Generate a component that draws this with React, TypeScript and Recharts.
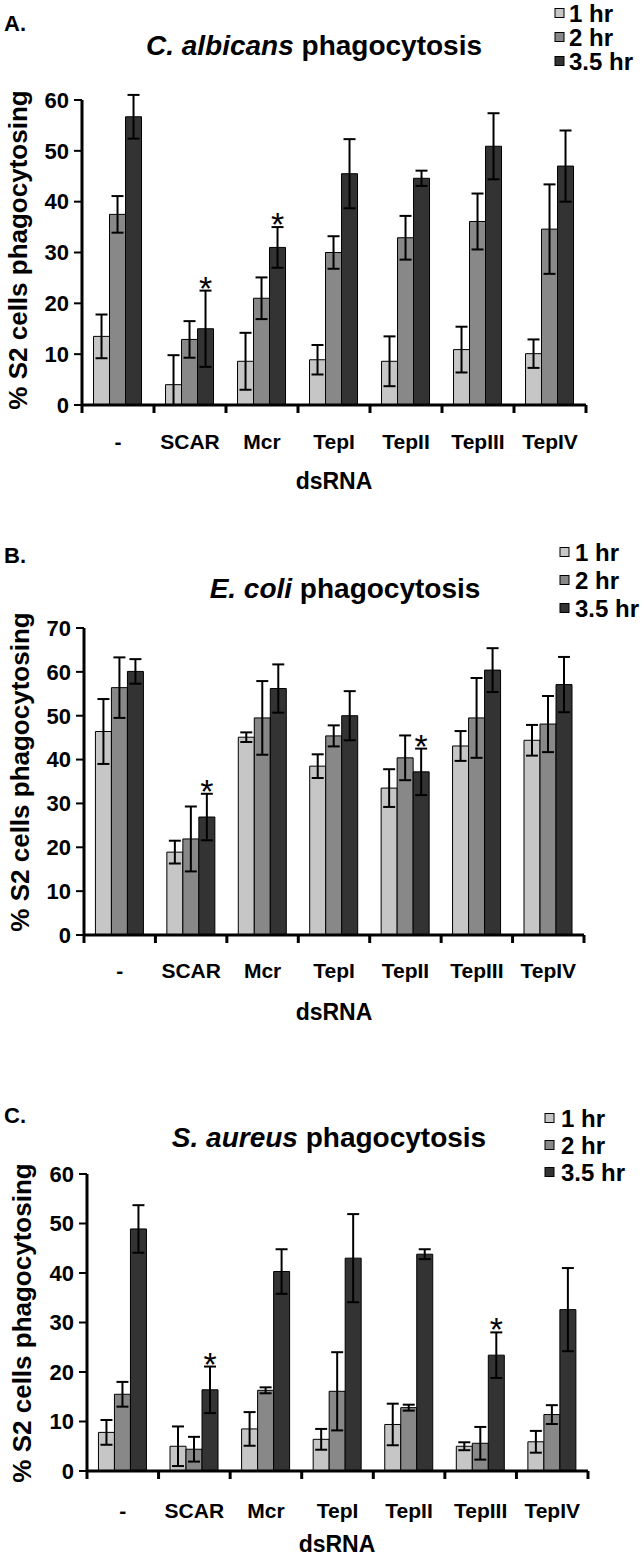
import React from 'react';
import { BarChart, Bar, XAxis, YAxis, ErrorBar, LabelList } from 'recharts';

// ---------- DATA ----------
const categories = ['-', 'SCAR', 'Mcr', 'TepI', 'TepII', 'TepIII', 'TepIV'];
const seriesNames = ['1 hr', '2 hr', '3.5 hr'];
const seriesColors = ['#c6c6c6', '#888888', '#333333'];

// A. C. albicans
const albicans1hr = [13.5, 4.0, 8.6, 8.9, 8.6, 10.9, 10.1];
const albicans1hrErr: (number | number[])[] = [4.3, [4.0, 5.8], 5.6, 2.9, 4.9, 4.5, 2.8];
const albicans2hr = [37.5, 12.9, 21.0, 30.0, 32.9, 36.1, 34.6];
const albicans2hrErr = [3.6, 3.6, 4.1, 3.2, 4.3, 5.5, 8.8];
const albicans35hr = [56.7, 15.0, 31.0, 45.5, 44.6, 50.9, 47.0];
const albicans35hrErr = [4.3, 7.5, 4.0, 6.8, 1.5, 6.5, 7.0];
const albicansStars = ['', '*', '*', '', '', '', ''];
const albicansTicks = [0, 10, 20, 30, 40, 50, 60];

// B. E. coli
const coli1hr = [46.4, 18.9, 45.1, 38.5, 33.5, 43.1, 44.4];
const coli1hrErr = [7.4, 2.6, 1.1, 2.7, 4.3, 3.4, 3.5];
const coli2hr = [56.4, 21.9, 49.5, 45.4, 40.4, 49.5, 48.1];
const coli2hrErr = [6.9, 7.4, 8.4, 2.4, 5.1, 9.1, 6.4];
const coli35hr = [60.1, 26.9, 56.2, 50.0, 37.2, 60.4, 57.1];
const coli35hrErr = [2.8, 5.3, 5.5, 5.6, 5.3, 5.0, 6.3];
const coliStars = ['', '*', '', '', '*', '', ''];
const coliTicks = [0, 10, 20, 30, 40, 50, 60, 70];

// C. S. aureus
const aureus1hr = [7.8, 5.0, 8.5, 6.4, 9.4, 5.0, 5.9];
const aureus1hrErr = [2.5, 4.0, 3.4, 2.1, 4.2, 0.8, 2.2];
const aureus2hr = [15.5, 4.4, 16.3, 16.1, 12.8, 5.6, 11.4];
const aureus2hrErr = [2.5, 2.5, 0.6, 7.9, 0.6, 3.3, 1.9];
const aureus35hr = [48.9, 16.4, 40.3, 43.0, 43.8, 23.4, 32.6];
const aureus35hrErr = [4.8, 4.7, 4.5, 8.9, 1.0, 4.6, 8.4];
const aureusStars = ['', '*', '', '', '', '*', ''];
const aureusTicks = [0, 10, 20, 30, 40, 50, 60];

// ---------- LAYOUT ----------
const FONT = '"Liberation Sans", Arial, Helvetica, sans-serif';
const Y_AXIS_W = 60;
const CAT_AXIS_H = 50;
const EDGE_TICK = 8;

type PanelCfg = {
  letter: string;
  italic: string;
  rest: string;
  top: number;
  height: number;
  plotTop: number;
  plotBottom: number;
  plotLeft: number;
  plotRight: number;
  labelMargin: number;
  letterY: number;
  titleX: number;
  titleY: number;
  legendX: number;
  legendTextX: number;
  legendY: number[];
  yLabelX: number;
  yLabelY: number;
  dsX: number;
  dsY: number;
  ticks: number[];
  v: number[][];
  e: (number | number[])[][];
  stars: string[];
};

const panels: PanelCfg[] = [
  {
    letter: 'A.', italic: 'C. albicans', rest: ' phagocytosis',
    top: 0, height: 470, plotTop: 100, plotBottom: 405, plotLeft: 82, plotRight: 586,
    labelMargin: 29, letterY: 31, titleX: 314, titleY: 55,
    legendX: 555, legendTextX: 569, legendY: [13, 37, 61],
    yLabelX: 18, yLabelY: 250, dsX: 334, dsY: 489,
    ticks: albicansTicks,
    v: [albicans1hr, albicans2hr, albicans35hr],
    e: [albicans1hrErr, albicans2hrErr, albicans35hrErr],
    stars: albicansStars,
  },
  {
    letter: 'B.', italic: 'E. coli', rest: ' phagocytosis',
    top: 520, height: 480, plotTop: 628, plotBottom: 935, plotLeft: 84, plotRight: 584,
    labelMargin: 28, letterY: 563, titleX: 345, titleY: 598,
    legendX: 560, legendTextX: 575, legendY: [552, 580, 608],
    yLabelX: 20, yLabelY: 772, dsX: 334, dsY: 1020,
    ticks: coliTicks,
    v: [coli1hr, coli2hr, coli35hr],
    e: [coli1hrErr, coli2hrErr, coli35hrErr],
    stars: coliStars,
  },
  {
    letter: 'C.', italic: 'S. aureus', rest: ' phagocytosis',
    top: 1090, height: 450, plotTop: 1174, plotBottom: 1471, plotLeft: 87, plotRight: 588,
    labelMargin: 32, letterY: 1123, titleX: 329, titleY: 1147,
    legendX: 545, legendTextX: 561, legendY: [1118, 1145, 1172],
    yLabelX: 22, yLabelY: 1323, dsX: 337, dsY: 1552,
    ticks: aureusTicks,
    v: [aureus1hr, aureus2hr, aureus35hr],
    e: [aureus1hrErr, aureus2hrErr, aureus35hrErr],
    stars: aureusStars,
  },
];

function buildRows(p: PanelCfg) {
  return categories.map((cat, i) => ({
    cat,
    v1: p.v[0][i],
    v2: p.v[1][i],
    v3: p.v[2][i],
    e1: p.e[0][i],
    e2: p.e[1][i],
    e3: p.e[2][i],
    star: p.stars[i],
  }));
}

function Panel({ p }: { p: PanelCfg }) {
  const rows = buildRows(p);
  const marginTop = p.plotTop - p.top;
  const marginBottom = p.height - (p.plotBottom - p.top) - CAT_AXIS_H;
  const yMax = p.ticks[p.ticks.length - 1];
  const fallbackHalfBand = (p.plotRight - p.plotLeft) / categories.length / 2;

  const starContent = (props: any) => {
    const { viewBox, index, value } = props;
    if (!value || !viewBox) return null;
    const row = rows[index];
    const err = Array.isArray(row.e3) ? row.e3[1] : (row.e3 as number);
    const pxPerUnit = viewBox.height / row.v3;
    const capY = viewBox.y - err * pxPerUnit;
    return (
      <text
        x={viewBox.x + viewBox.width / 2}
        y={capY + 9}
        textAnchor="middle"
        fontFamily={FONT}
        fontSize={34}
        fill="#000"
      >
        {value}
      </text>
    );
  };

  // category label + boundary tick marks (boundaries of the band scale)
  const catTick = (props: any) => {
    const { x, y, payload, index } = props;
    const half = payload && typeof payload.offset === 'number' && payload.offset > 0 ? payload.offset : fallbackHalfBand;
    const axisY = y - p.labelMargin;
    const last = index === categories.length - 1;
    return (
      <g>
        <line x1={x - half} y1={axisY} x2={x - half} y2={axisY + EDGE_TICK} stroke="#000" strokeWidth={3} />
        {last ? (
          <line x1={x + half} y1={axisY} x2={x + half} y2={axisY + EDGE_TICK} stroke="#000" strokeWidth={3} />
        ) : null}
        <text
          x={x}
          y={y}
          dy="0.71em"
          textAnchor="middle"
          fontFamily={FONT}
          fontSize={21}
          fontWeight="bold"
          fill="#000"
        >
          {payload.value}
        </text>
      </g>
    );
  };

  return (
    <div style={{ position: 'absolute', left: 0, top: p.top }}>
      <BarChart
        width={644}
        height={p.height}
        data={rows}
        margin={{ top: marginTop, right: 644 - p.plotRight, left: p.plotLeft - Y_AXIS_W, bottom: marginBottom }}
        barCategoryGap="16%"
        barGap={0}
      >
        {[0, 1, 2].map((s) => (
          <Bar
            key={s}
            dataKey={`v${s + 1}`}
            name={seriesNames[s]}
            fill={seriesColors[s]}
            stroke="#000"
            strokeWidth={1}
            isAnimationActive={false}
          >
            <ErrorBar dataKey={`e${s + 1}`} width={6} stroke="#000" strokeWidth={2} direction="y" />
            {s === 2 ? <LabelList dataKey="star" content={starContent} /> : null}
          </Bar>
        ))}
        <XAxis
          dataKey="cat"
          type="category"
          interval={0}
          height={CAT_AXIS_H}
          axisLine={{ stroke: '#000', strokeWidth: 3 }}
          tickLine={false}
          tickSize={0}
          tickMargin={p.labelMargin}
          tick={catTick}
        />
        <YAxis
          width={Y_AXIS_W}
          domain={[0, yMax]}
          ticks={p.ticks}
          allowDataOverflow
          interval={0}
          tickSize={8}
          tickMargin={5}
          axisLine={{ stroke: '#000', strokeWidth: 3 }}
          tickLine={{ stroke: '#000', strokeWidth: 2 }}
          tick={{ fontSize: 22, fontWeight: 'bold', fill: '#000', fontFamily: FONT }}
        />
      </BarChart>
    </div>
  );
}

function Overlay() {
  return (
    <svg
      width={644}
      height={1559}
      style={{ position: 'absolute', left: 0, top: 0, pointerEvents: 'none' }}
      fontFamily={FONT}
      fontWeight="bold"
      fill="#000"
    >
      {panels.map((p, pi) => (
        <g key={pi}>
          <text x={4} y={p.letterY} fontSize={22}>{p.letter}</text>
          <text x={p.titleX} y={p.titleY} fontSize={28} textAnchor="middle">
            <tspan fontStyle="italic">{p.italic}</tspan>
            <tspan>{p.rest}</tspan>
          </text>
          {seriesNames.map((n, si) => (
            <g key={si}>
              <rect
                x={p.legendX}
                y={p.legendY[si] - 4.5}
                width={9}
                height={9}
                fill={seriesColors[si]}
                stroke="#000"
                strokeWidth={1}
              />
              <text x={p.legendTextX} y={p.legendY[si] + 9} fontSize={24}>{n}</text>
            </g>
          ))}
          <text
            x={p.yLabelX}
            y={p.yLabelY}
            fontSize={26}
            textAnchor="middle"
            dominantBaseline="central"
            transform={`rotate(-90 ${p.yLabelX} ${p.yLabelY})`}
          >
            % S2 cells phagocytosing
          </text>
          <text x={p.dsX} y={p.dsY} fontSize={23} textAnchor="middle">dsRNA</text>
        </g>
      ))}
    </svg>
  );
}

export default function App() {
  return (
    <div style={{ position: 'absolute', left: 0, top: 0, width: 644, height: 1559, background: '#fff', overflow: 'hidden' }}>
      {panels.map((p, i) => (
        <Panel key={i} p={p} />
      ))}
      <Overlay />
    </div>
  );
}
